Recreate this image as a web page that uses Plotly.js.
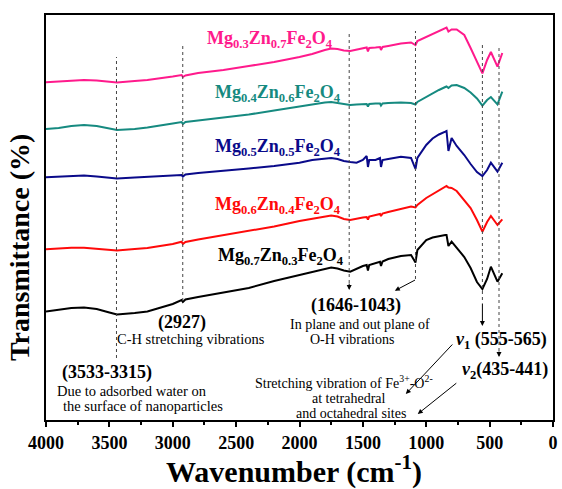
<!DOCTYPE html>
<html><head><meta charset="utf-8">
<script src="https://cdn.plot.ly/plotly-3.0.1.min.js"></script>
<style>html,body{margin:0;padding:0;background:#fff;} #chart{width:562px;height:489px;}</style>
</head><body><div id="chart"></div>
<script>
// Wavenumber (cm^-1) sample points shared by all spectra
const wavenumber = [4000,3900,3800,3700,3600,3500,3440,3300,3200,3000,2930,2920,2900,2800,2600,2400,2200,2000,1900,1800,1750,1700,1650,1600,1550,1500,1470,1460,1450,1400,1365,1357,1345,1300,1200,1120,1085,1070,1000,950,900,850,840,825,800,760,700,650,600,557,520,490,438,400];

// Transmittance (offset, arbitrary units)
const tMg03Zn07 = [337.7,338.5,339.3,340,339.5,338,337.5,339,340,343.5,345,343,344.5,347,350,354,358,363,366,370,371.5,371,369.5,369,370.5,372,372.5,368.5,372,372.5,373,370,373,374,376.5,377.5,375,379,383,386,389,392,392.5,388.5,390.5,390.5,385,372,358,346.7,360,368,353.3,367];
const tMg04Zn06 = [291,292,294,295,294,291.5,290,291,292.5,296.5,298,296,298,299.5,302.5,305.5,309.5,313.5,316,317.5,318,317,315.5,315,315.5,316,316,313.5,316,316.5,316.5,314.5,316.5,317,317.5,317,315.5,318,323,327,330,333,333.5,332,334.5,335,332,327.5,321.5,314.3,320,323,315.7,328.3];
const tMg05Zn05 = [242.7,243.5,244.3,244.5,243.5,242,241.5,242.5,243,244.5,245,243.5,245.5,247,249,251.5,254,257.3,260,261.7,262,261,259,258,257.3,260,264,253,260,260,262,253,260,261,263.3,262,251,262,275,281.5,285.5,288.3,289,269,282,274,265,256,248,244,250,257.3,248.3,257.3];
const tMg06Zn04 = [170.7,171.5,172.3,172.3,171.5,170,169.5,171,172,176,178.3,176,178,180.5,185,189,193.5,199,201.5,204,204.5,203.5,201,200,201.5,202.5,203,200.5,203.5,205,206,204,206.5,208,211,213.5,212.5,215,222,226,230,233.5,234,232.5,232,229,220,212,200,188.3,198,204,195,200.7];
const tMg07Zn03 = [108.5,110,112,112.5,111,107.5,105.5,107,108.5,116,120,118,120.5,123,127.5,132,139,145,148,151,152.5,151.5,149.5,148.3,151.5,154,155,149.5,155,156.5,158.3,154,158.5,161,164,165,157.5,170,180,182.5,184,185,185,174,178.3,172,163,152,138,131,141,153.3,138.3,146.7];

const seriesValues = [tMg03Zn07, tMg04Zn06, tMg05Zn05, tMg06Zn04, tMg07Zn03];
const seriesNames = [
  'Mg<sub>0.3</sub>Zn<sub>0.7</sub>Fe<sub>2</sub>O<sub>4</sub>',
  'Mg<sub>0.4</sub>Zn<sub>0.6</sub>Fe<sub>2</sub>O<sub>4</sub>',
  'Mg<sub>0.5</sub>Zn<sub>0.5</sub>Fe<sub>2</sub>O<sub>4</sub>',
  'Mg<sub>0.6</sub>Zn<sub>0.4</sub>Fe<sub>2</sub>O<sub>4</sub>',
  'Mg<sub>0.7</sub>Zn<sub>0.3</sub>Fe<sub>2</sub>O<sub>4</sub>'
];
const seriesColors = ['#FF1A8C', '#168A80', '#0A0A8A', '#FF0A0A', '#000000'];
// label anchor positions (wavenumber, transmittance)
const labelX = [2234, 2171, 2168, 2166, 2143];
const labelY = [381, 327, 273, 214.5, 164];

// Band positions marked with dotted guide lines
const bandPositions = [3444, 2921, 1608, 1085, 557, 426];
const bandTop = [363, 374, 386, 389, 377, 374];
const bandBottom = [62, 119, 137, 141, 120, 69];

const xTickVals = [4000,3500,3000,2500,2000,1500,1000,500,0];
const xTickText = ['4000','3500','3000','2500','2000','1500','1000','500','0'];

const FONT = 'Liberation Serif, Times New Roman, serif';

const traces = seriesValues.map((vals, i) => ({
  x: wavenumber, y: vals, type: 'scatter', mode: 'lines',
  line: {color: seriesColors[i], width: 2}, name: seriesNames[i], hoverinfo: 'skip'
}));

const shapes = bandPositions.map((b, i) => ({
  type: 'line', xref: 'x', yref: 'y', x0: b, x1: b, y0: bandBottom[i], y1: bandTop[i],
  line: {color: '#444', width: 1, dash: 'dot'}
}));

const annotations = [];
seriesNames.forEach((n, i) => annotations.push({
  x: labelX[i], y: labelY[i], xref: 'x', yref: 'y', text: '<b>' + n + '</b>',
  showarrow: false, font: {family: FONT, size: 18, color: seriesColors[i]}, xanchor: 'center', yanchor: 'middle'
}));

function txt(x, y, t, size, extra) {
  annotations.push(Object.assign({x: x, y: y, xref: 'x', yref: 'y', text: t, showarrow: false,
    font: {family: FONT, size: size, color: '#000'}, xanchor: 'center', yanchor: 'middle'}, extra || {}));
}
txt(2928, 98, '<b>(2927)</b>', 18);
txt(2857, 81, 'C-H stretching vibrations', 14.5);
txt(3515, 48, '<b>(3533-3315)</b>', 18);
txt(3324, 29.5, 'Due to adsorbed water on', 14.5);
txt(3232, 14, 'the surface of nanoparticles', 14.5);
txt(1554, 115, '<b>(1646-1043)</b>', 18);
txt(1522, 96, 'In plane and out plane of', 14);
txt(1587, 80.5, 'O-H vibrations', 14);
txt(1646, 38.5, 'Stretching vibration of Fe<sup>3+</sup>-O<sup>2-</sup>', 14);
txt(1607, 22, 'at tetrahedral', 14);
txt(1597, 7, 'and octahedral sites', 14);
txt(404, 80, '<b><i>ν</i><sub>1</sub> (555-565)</b>', 18);
txt(377, 50, '<b><i>ν</i><sub>2</sub>(435-441)</b>', 18);

function arrow(tx, ty, fx, fy) {
  annotations.push({x: tx, y: ty, ax: fx, ay: fy, xref: 'x', yref: 'y', axref: 'x', ayref: 'y',
    text: '', showarrow: true, arrowhead: 2, arrowsize: 1, arrowwidth: 1, arrowcolor: '#000'});
}
arrow(1608, 130, 1608, 138);
arrow(1248, 129.3, 1077, 140.7);
arrow(557, 94, 557, 118);
arrow(426, 63, 426, 70);
arrow(1161, 26, 783, 77);
arrow(1067, 6, 751, 38);

// axis titles
annotations.push({xref: 'paper', yref: 'paper', x: 0.49, y: -0.123, text: '<b>Wavenumber (cm<sup>-1</sup>)</b>',
  showarrow: false, font: {family: FONT, size: 30, color: '#000'}, xanchor: 'center', yanchor: 'middle'});
annotations.push({xref: 'paper', yref: 'paper', x: -0.051, y: 0.425, text: '<b>Transmittance (%)</b>', textangle: -90,
  showarrow: false, font: {family: FONT, size: 28, color: '#000'}, xanchor: 'center', yanchor: 'middle'});

const layout = {
  width: 562, height: 489,
  margin: {l: 46, r: 9, t: 15, b: 69},
  paper_bgcolor: '#fff', plot_bgcolor: '#fff',
  showlegend: false,
  xaxis: {
    range: [4000, 0], tickvals: xTickVals, ticktext: xTickText,
    ticks: 'outside', ticklen: 5, tickwidth: 2, tickcolor: '#000',
    minor: {dtick: 250, ticks: 'outside', ticklen: 3, tickwidth: 2, tickcolor: '#000'},
    showline: true, linecolor: '#000', linewidth: 2, mirror: true,
    showgrid: false, zeroline: false,
    tickfont: {family: FONT, size: 18, color: '#000', weight: 700}
  },
  yaxis: {
    range: [0, 405], showticklabels: false, ticks: '',
    showline: true, linecolor: '#000', linewidth: 2, mirror: true,
    showgrid: false, zeroline: false
  },
  shapes: shapes,
  annotations: annotations
};

Plotly.newPlot('chart', traces, layout, {displayModeBar: false, staticPlot: true});
</script>
</body></html>
